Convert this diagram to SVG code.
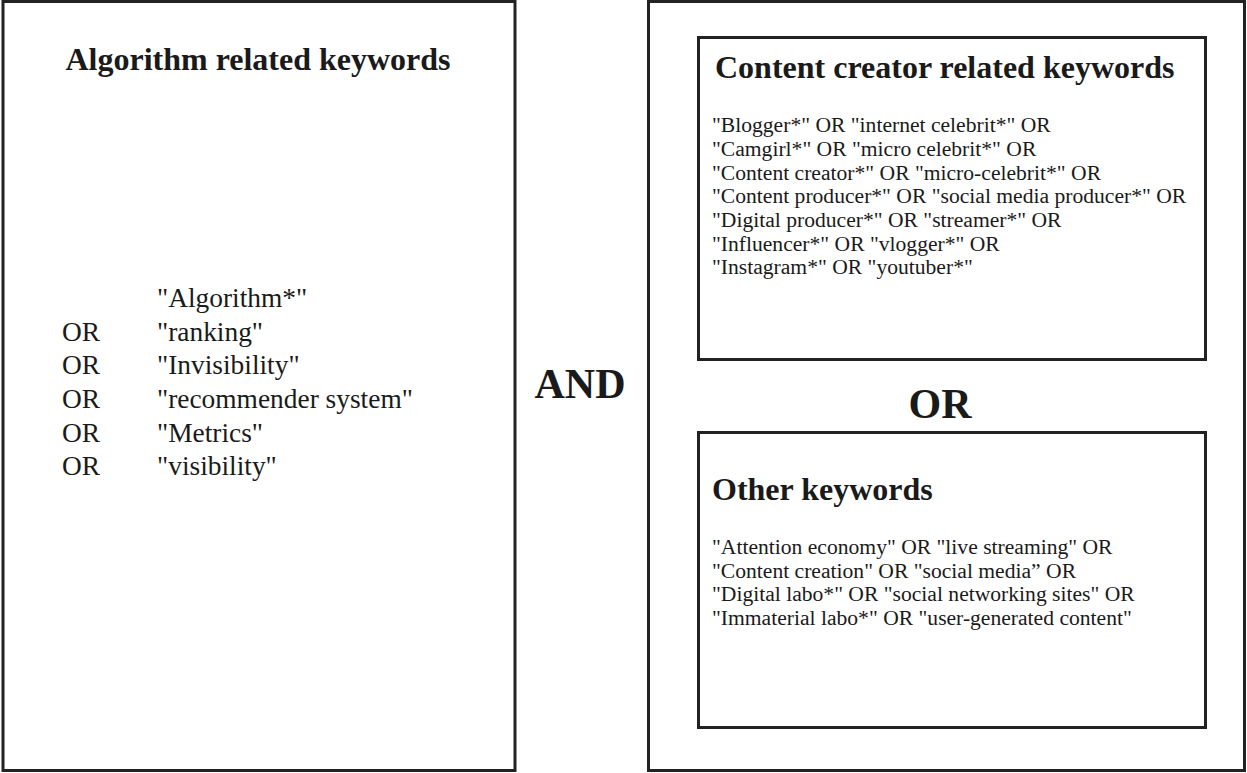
<svg xmlns="http://www.w3.org/2000/svg" width="1247" height="773" viewBox="0 0 1247 773">
<style>
.box{fill:none;stroke:#222;stroke-width:3}
.h{font-family:"Liberation Serif","Times New Roman",serif;font-weight:bold;font-size:32px;fill:#1a1a1a}
.big{font-family:"Liberation Serif","Times New Roman",serif;font-weight:bold;font-size:42px;fill:#1a1a1a}
.l{font-family:"Liberation Serif","Times New Roman",serif;font-size:27.4px;fill:#1a1a1a}
.s{font-family:"Liberation Serif","Times New Roman",serif;font-size:21.6px;fill:#1a1a1a}
</style>
<rect width="1247" height="773" fill="#fff"/>
<g id="algorithm">
<rect class="box" x="3" y="1.5" width="512" height="769"/>
<text class="h" x="258" y="70" text-anchor="middle">Algorithm related keywords</text>
<text class="l" x="157" y="307">"Algorithm*"</text>
<text class="l" x="62" y="341">OR</text><text class="l" x="157" y="341">"ranking"</text>
<text class="l" x="62" y="374">OR</text><text class="l" x="157" y="374">"Invisibility"</text>
<text class="l" x="62" y="408">OR</text><text class="l" x="157" y="408">"recommender system"</text>
<text class="l" x="62" y="442">OR</text><text class="l" x="157" y="442">"Metrics"</text>
<text class="l" x="62" y="475">OR</text><text class="l" x="157" y="475">"visibility"</text>
</g>
<g id="and-op">
<text class="big" x="580" y="398" text-anchor="middle">AND</text>
</g>
<g id="right-group">
<rect class="box" x="648.5" y="1.5" width="596" height="769"/>
</g>
<g id="content-creator">
<rect class="box" x="698.5" y="37.5" width="507" height="322"/>
<text class="h" x="715" y="78">Content creator related keywords</text>
<text class="s" x="712" y="132">"Blogger*" OR "internet celebrit*" OR</text>
<text class="s" x="712" y="156">"Camgirl*" OR "micro celebrit*" OR</text>
<text class="s" x="712" y="180">"Content creator*" OR "micro-celebrit*" OR</text>
<text class="s" x="712" y="203">"Content producer*" OR "social media producer*" OR</text>
<text class="s" x="712" y="227">"Digital producer*" OR "streamer*" OR</text>
<text class="s" x="712" y="251">"Influencer*" OR "vlogger*" OR</text>
<text class="s" x="712" y="274">"Instagram*" OR "youtuber*"</text>
</g>
<g id="or-op">
<text class="big" x="940" y="418" text-anchor="middle">OR</text>
</g>
<g id="other">
<rect class="box" x="698.5" y="432.5" width="507" height="295"/>
<text class="h" x="712" y="500">Other keywords</text>
<text class="s" x="712" y="554">"Attention economy" OR "live streaming" OR</text>
<text class="s" x="712" y="578">"Content creation" OR "social media” OR</text>
<text class="s" x="712" y="601">"Digital labo*" OR "social networking sites" OR</text>
<text class="s" x="712" y="625">"Immaterial labo*" OR "user-generated content"</text>
</g>
<g id="connectors"></g>
</svg>
